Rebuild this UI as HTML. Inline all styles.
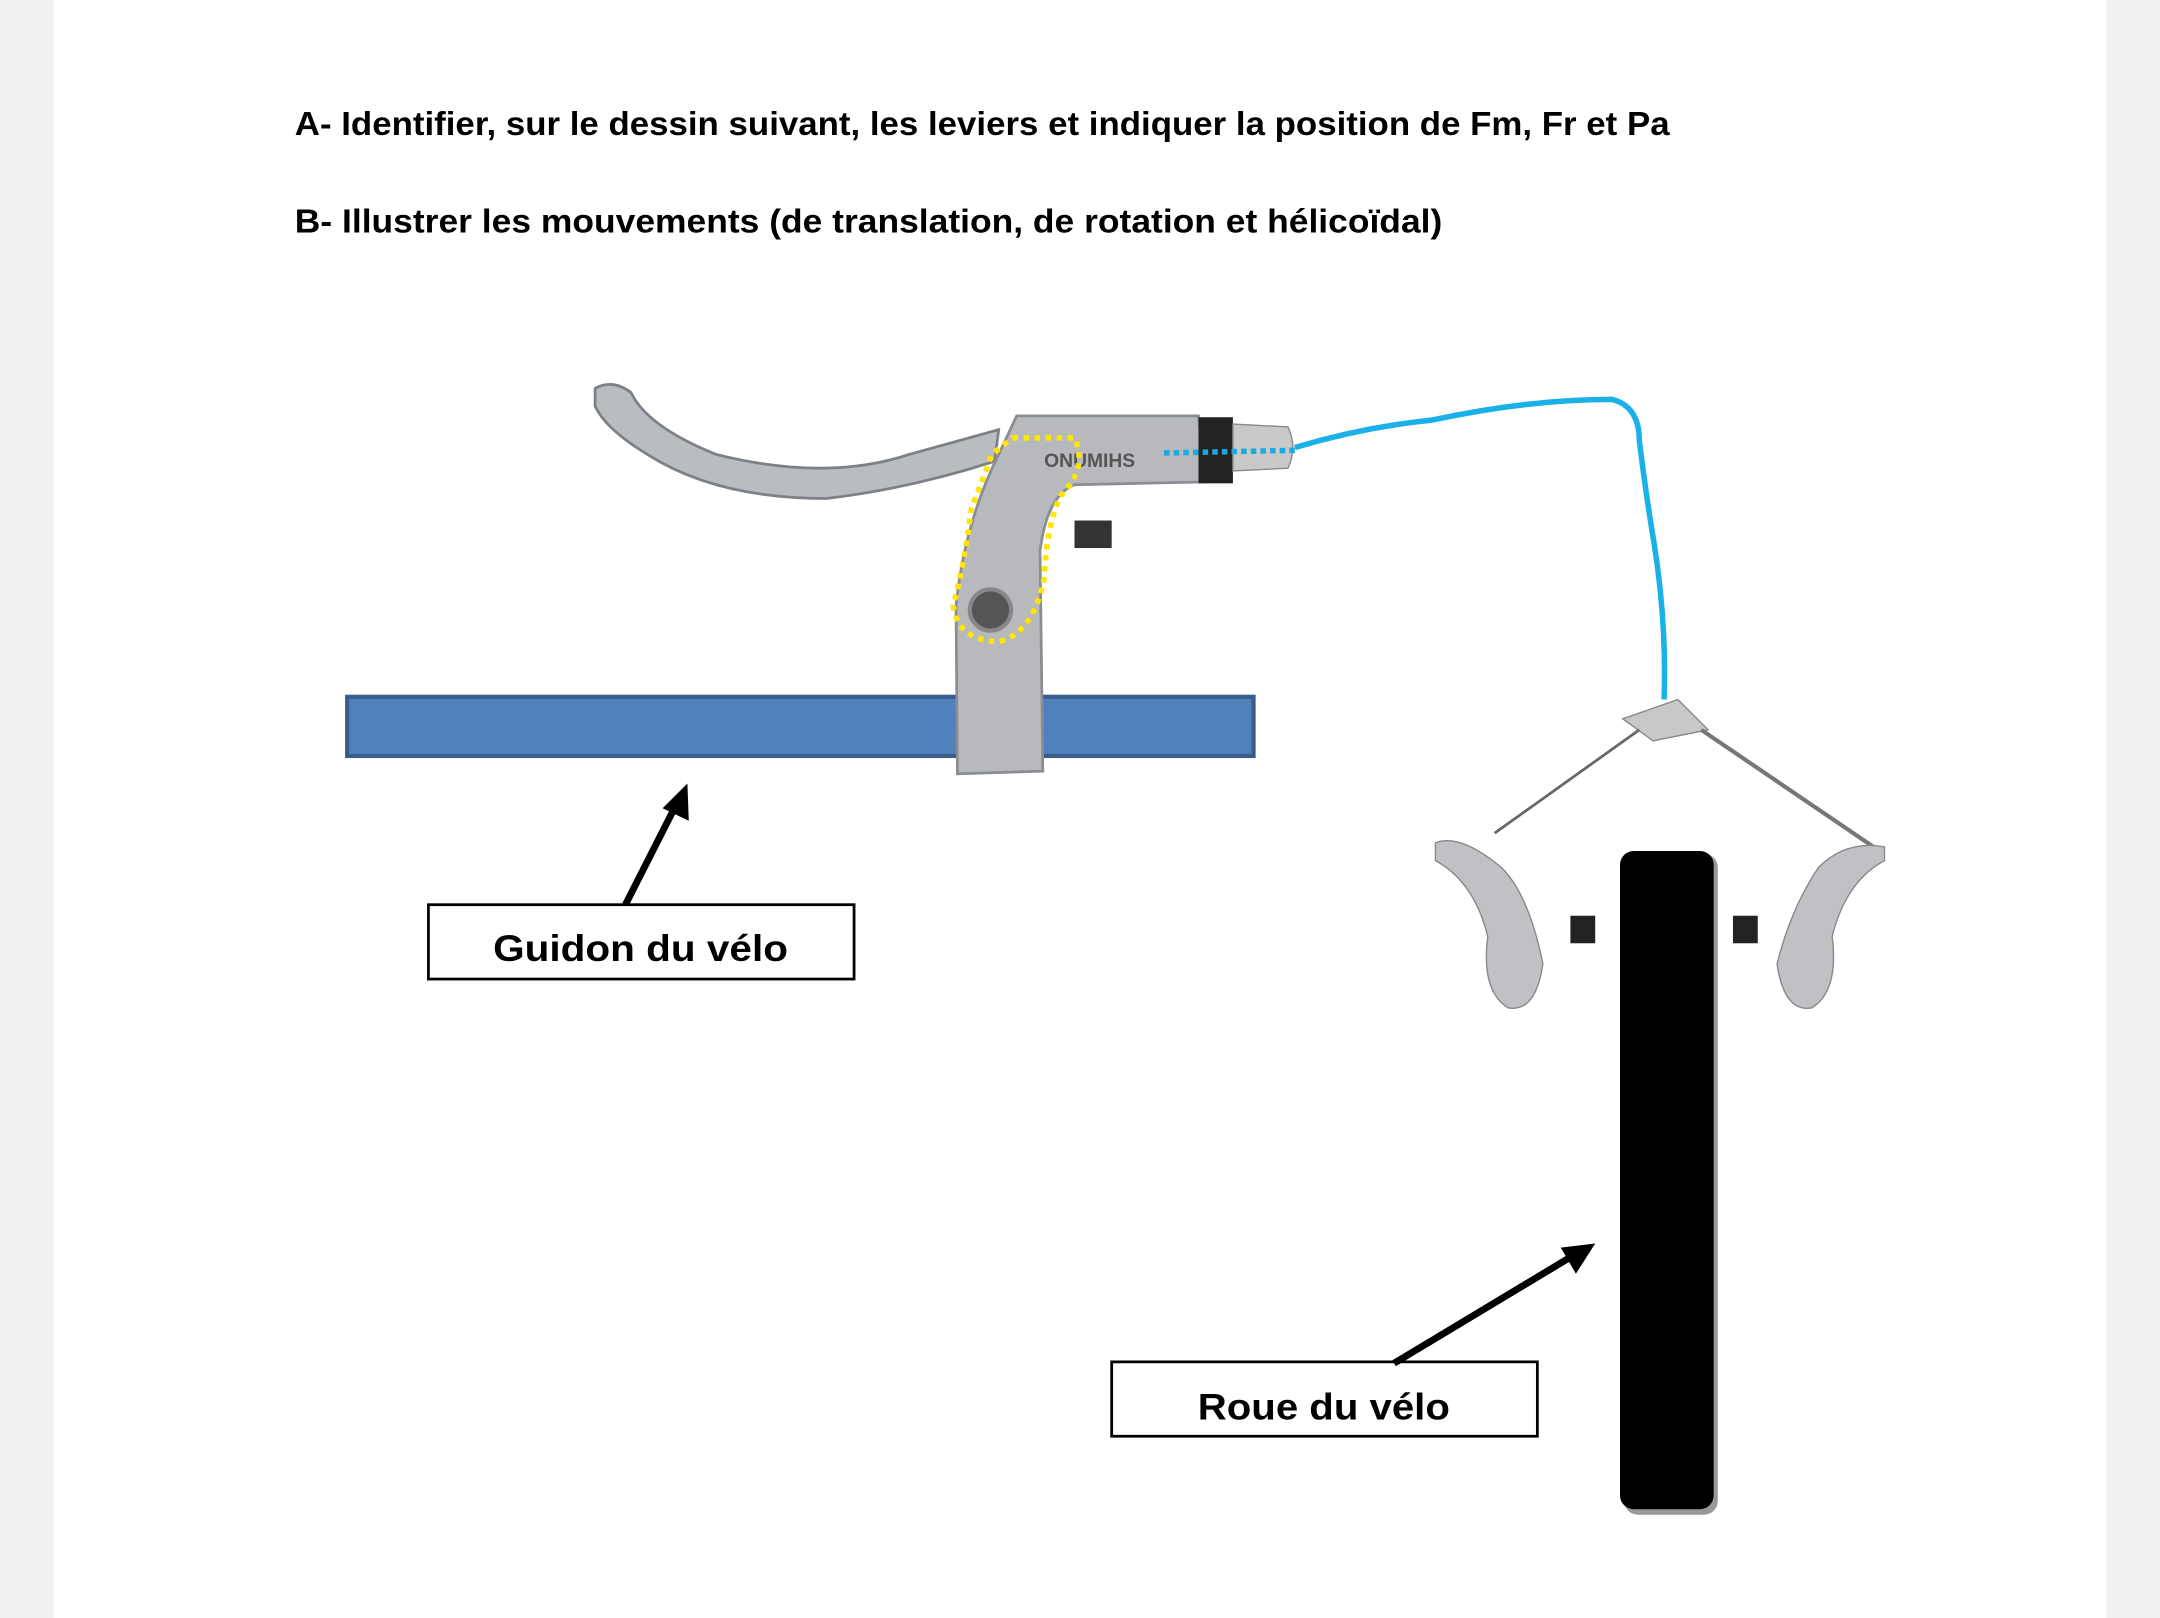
<!DOCTYPE html>
<html><head><meta charset="utf-8"><style>
html,body{margin:0;padding:0;background:#fff}
svg{display:block}
</style></head><body>
<svg width="2160" height="1618" viewBox="0 0 1568 1175" preserveAspectRatio="none" xmlns="http://www.w3.org/2000/svg">
<rect x="0" y="0" width="1568" height="1175" fill="#f0f0f3"/>
<rect x="39" y="0" width="1490" height="1175" fill="#ffffff"/>
<g font-family="Liberation Sans, sans-serif" font-weight="bold" fill="#000">
<text x="214" y="98" font-size="24" textLength="998" lengthAdjust="spacingAndGlyphs">A- Identifier, sur le dessin suivant, les leviers et indiquer la position de Fm, Fr et Pa</text>
<text x="214" y="169" font-size="24" textLength="833" lengthAdjust="spacingAndGlyphs">B- Illustrer les mouvements (de translation, de rotation et hélicoïdal)</text>
</g>
<rect x="252" y="506" width="658" height="43" fill="#4f81bd" stroke="#385d8a" stroke-width="3"/>
<path d="M432 282 Q445 275 458 285 Q470 310 520 330 Q600 350 660 330 L725 312 L722 335 Q660 355 600 362 Q520 362 470 330 Q440 312 432 295 Z" fill="#b9bcc0" stroke="#7d8085" stroke-width="2"/>
<path d="M738 302 L870 302 L875 350 L780 352 Q760 360 755 400 L757 560 L695 562 L694 440 Q700 380 725 330 Z" fill="#b7b9bd" stroke="#8a8d92" stroke-width="2"/>
<rect x="870" y="303" width="25" height="48" fill="#222"/>
<path d="M895 308 L935 310 Q942 325 935 340 L895 342 Z" fill="#c9c9c9" stroke="#888"/>
<rect x="780" y="378" width="27" height="20" fill="#333"/>
<circle cx="719" cy="443" r="15" fill="#555" stroke="#888" stroke-width="3"/>
<text x="758" y="339" font-family="Liberation Sans, sans-serif" font-size="14" font-weight="bold" fill="#555">ONUMIHS</text>
<path d="M735 318 L780 318 Q790 340 770 360 Q760 380 758 420 Q750 460 725 466 Q695 465 692 440 Q700 410 705 370 L720 330 Z" fill="none" stroke="#ffe600" stroke-width="4" stroke-dasharray="4,4"/>
<path d="M845 329 L940 327" stroke="#1ca8e0" stroke-width="4" stroke-dasharray="4,3" fill="none"/>
<path d="M940 325 Q990 310 1040 305 Q1110 290 1170 290 Q1190 295 1190 320 Q1195 360 1200 390 Q1210 450 1208 508" stroke="#1ab0e8" stroke-width="4" fill="none"/>
<path d="M1178 522 L1218 508 L1240 530 L1200 538 Z" fill="#c8c8c8" stroke="#888"/>
<line x1="1190" y1="530" x2="1085" y2="605" stroke="#666" stroke-width="2"/>
<line x1="1235" y1="530" x2="1360" y2="615" stroke="#777" stroke-width="3"/>
<path d="M1042 612 Q1060 605 1090 630 Q1110 650 1120 700 Q1115 735 1095 732 Q1075 720 1080 680 Q1070 640 1042 625 Z" fill="#bfc1c4" stroke="#888"/>
<rect x="1140" y="665" width="18" height="20" fill="#222"/>
<path d="M1368 615 Q1340 610 1320 630 Q1300 660 1290 700 Q1295 735 1315 732 Q1335 720 1330 680 Q1340 640 1368 625 Z" fill="#bfc1c4" stroke="#888"/>
<rect x="1258" y="665" width="18" height="20" fill="#222"/>
<rect x="1179" y="620" width="68" height="480" rx="10" fill="#999"/>
<rect x="1176" y="618" width="68" height="478" rx="10" fill="#000"/>
<rect x="311" y="657" width="309" height="54" fill="#fff" stroke="#000" stroke-width="2"/>
<text x="465" y="698" text-anchor="middle" font-family="Liberation Sans, sans-serif" font-weight="bold" font-size="27" textLength="214" lengthAdjust="spacingAndGlyphs">Guidon du vélo</text>
<rect x="807" y="989" width="309" height="54" fill="#fff" stroke="#000" stroke-width="2"/>
<text x="961" y="1031" text-anchor="middle" font-family="Liberation Sans, sans-serif" font-weight="bold" font-size="27" textLength="183" lengthAdjust="spacingAndGlyphs">Roue du vélo</text>
<line x1="454" y1="657" x2="489" y2="588" stroke="#000" stroke-width="5"/>
<polygon points="499,569 500,596 481,587" fill="#000"/>
<line x1="1012" y1="990" x2="1140" y2="913" stroke="#000" stroke-width="5"/>
<polygon points="1158,903 1144,925 1133,906" fill="#000"/>
</svg>
</body></html>
